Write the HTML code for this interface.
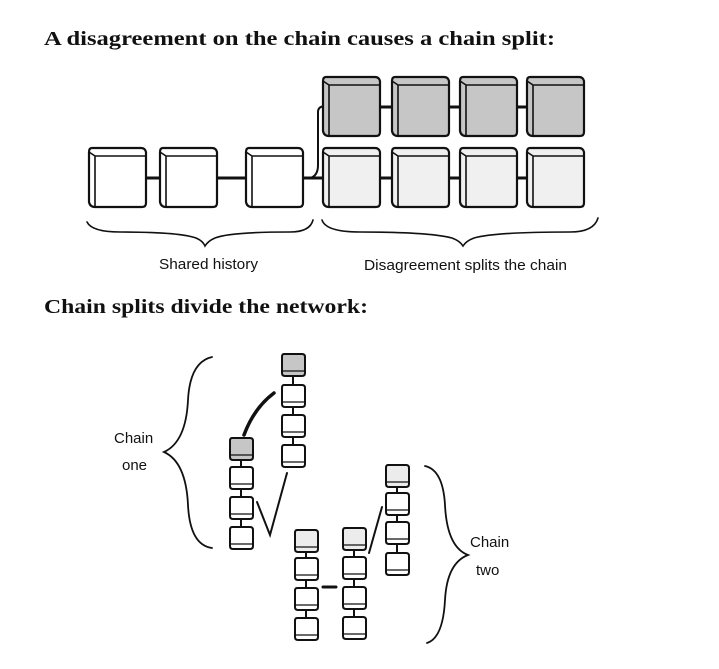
<!DOCTYPE html>
<html><head><meta charset="utf-8"><style>
html,body{margin:0;padding:0;background:#fff;}
svg{display:block;}
.t{font-family:"Liberation Serif",serif;font-weight:bold;font-size:20px;fill:#111;}
.l{font-family:"Liberation Sans",sans-serif;font-size:15px;fill:#111;}
.ln{stroke:#111;fill:none;stroke-linecap:round;}
</style></head><body>
<svg width="719" height="669" viewBox="0 0 719 669" xmlns="http://www.w3.org/2000/svg">
<defs>
<g id="bb">
<path d="M3,0 H52 Q56,0 57,4 V55 Q57,59 53,59 H6 Q1,59 0,54 V4 Q0,0 3,0 Z" stroke="#111" stroke-width="2.2" fill="inherit"/>
<path d="M0,4 L6,8 H57 M6,8 V59" stroke="#111" stroke-width="1.6" fill="none"/>
</g>
<g id="sb">
<path d="M2,0 H20 Q23,0 23,3 V19 Q23,22 20,22 H3 Q0,22 0,19 V3 Q0,0 2,0 Z" stroke="#111" stroke-width="2" fill="inherit"/>
<path d="M0,17 H23" stroke="#111" stroke-width="1.3" fill="none"/>
</g>
</defs>
<rect width="719" height="669" fill="#fff"/>
<text class="t" x="44" y="45" textLength="511" lengthAdjust="spacingAndGlyphs">A disagreement on the chain causes a chain split:</text>
<text class="t" x="44" y="313" textLength="324" lengthAdjust="spacingAndGlyphs">Chain splits divide the network:</text>

<g class="ln" stroke-width="3">
<line x1="146" y1="178" x2="160" y2="178"/>
<line x1="217" y1="178" x2="247" y2="178"/>
<line x1="302" y1="178" x2="324" y2="178"/>
<line x1="379" y1="178" x2="394" y2="178"/>
<line x1="448" y1="178" x2="461" y2="178"/>
<line x1="517" y1="178" x2="528" y2="178"/>
<line x1="379" y1="107" x2="394" y2="107"/>
<line x1="448" y1="107" x2="461" y2="107"/>
<line x1="517" y1="107" x2="528" y2="107"/>
<path d="M310,178 Q318,176 318,165 V112 Q318,106 326,106" stroke-width="2"/>
</g>
<g fill="#fff"><use href="#bb" x="89" y="148"/><use href="#bb" x="160" y="148"/><use href="#bb" x="246" y="148"/></g>
<g fill="#f0f0f0"><use href="#bb" x="323" y="148"/><use href="#bb" x="392" y="148"/><use href="#bb" x="460" y="148"/><use href="#bb" x="527" y="148"/></g>
<g fill="#c6c6c6"><use href="#bb" x="323" y="77"/><use href="#bb" x="392" y="77"/><use href="#bb" x="460" y="77"/><use href="#bb" x="527" y="77"/></g>

<g class="ln" stroke-width="1.6">
<path d="M87,222 Q92,232 120,232 Q180,232 196,238 Q203,241 205,246 Q208,241 215,238 Q230,232 290,232 Q310,232 313,220"/>
<path d="M322,220 Q326,232 360,232 Q430,232 452,238 Q460,241 463,246 Q466,241 474,238 Q495,232 570,232 Q594,232 598,218"/>
</g>
<text class="l" x="159" y="269" textLength="99" lengthAdjust="spacingAndGlyphs">Shared history</text>
<text class="l" x="364" y="270" textLength="203" lengthAdjust="spacingAndGlyphs">Disagreement splits the chain</text>

<g class="ln" stroke-width="2">
<path d="M244,435 Q254,408 274,393" stroke-width="3.5"/>
<path d="M257,502 L270,535 L287,473"/>
<path d="M369,553 L382,507"/>
<path d="M323,587 L336,587" stroke-width="3"/>
<line x1="293" y1="375" x2="293" y2="385"/><line x1="293" y1="405" x2="293" y2="415"/><line x1="293" y1="435" x2="293" y2="445"/>
<line x1="241" y1="460" x2="241" y2="467"/><line x1="241" y1="489" x2="241" y2="497"/><line x1="241" y1="519" x2="241" y2="527"/>
<line x1="306" y1="552" x2="306" y2="558"/><line x1="306" y1="580" x2="306" y2="588"/><line x1="306" y1="610" x2="306" y2="618"/>
<line x1="354" y1="550" x2="354" y2="557"/><line x1="354" y1="579" x2="354" y2="587"/><line x1="354" y1="609" x2="354" y2="617"/>
<line x1="397" y1="487" x2="397" y2="493"/><line x1="397" y1="515" x2="397" y2="522"/><line x1="397" y1="544" x2="397" y2="553"/>
</g>
<g fill="#c6c6c6"><use href="#sb" x="282" y="354"/><use href="#sb" x="230" y="438"/></g>
<g fill="#fff">
<use href="#sb" x="282" y="385"/><use href="#sb" x="282" y="415"/><use href="#sb" x="282" y="445"/>
<use href="#sb" x="230" y="467"/><use href="#sb" x="230" y="497"/><use href="#sb" x="230" y="527"/>
<use href="#sb" x="295" y="558"/><use href="#sb" x="295" y="588"/><use href="#sb" x="295" y="618"/>
<use href="#sb" x="343" y="557"/><use href="#sb" x="343" y="587"/><use href="#sb" x="343" y="617"/>
<use href="#sb" x="386" y="493"/><use href="#sb" x="386" y="522"/><use href="#sb" x="386" y="553"/>
</g>
<g fill="#ececec"><use href="#sb" x="295" y="530"/><use href="#sb" x="343" y="528"/><use href="#sb" x="386" y="465"/></g>

<g class="ln" stroke-width="1.8">
<path d="M212,357 Q190,362 188,400 Q186,442 164,452 Q186,462 188,505 Q190,545 212,548"/>
<path d="M425,466 Q443,470 445,505 Q447,547 468,555 Q447,563 445,600 Q443,638 427,643"/>
</g>
<text class="l" x="114" y="443">Chain</text>
<text class="l" x="122" y="470">one</text>
<text class="l" x="470" y="547">Chain</text>
<text class="l" x="476" y="575">two</text>
</svg>
</body></html>
